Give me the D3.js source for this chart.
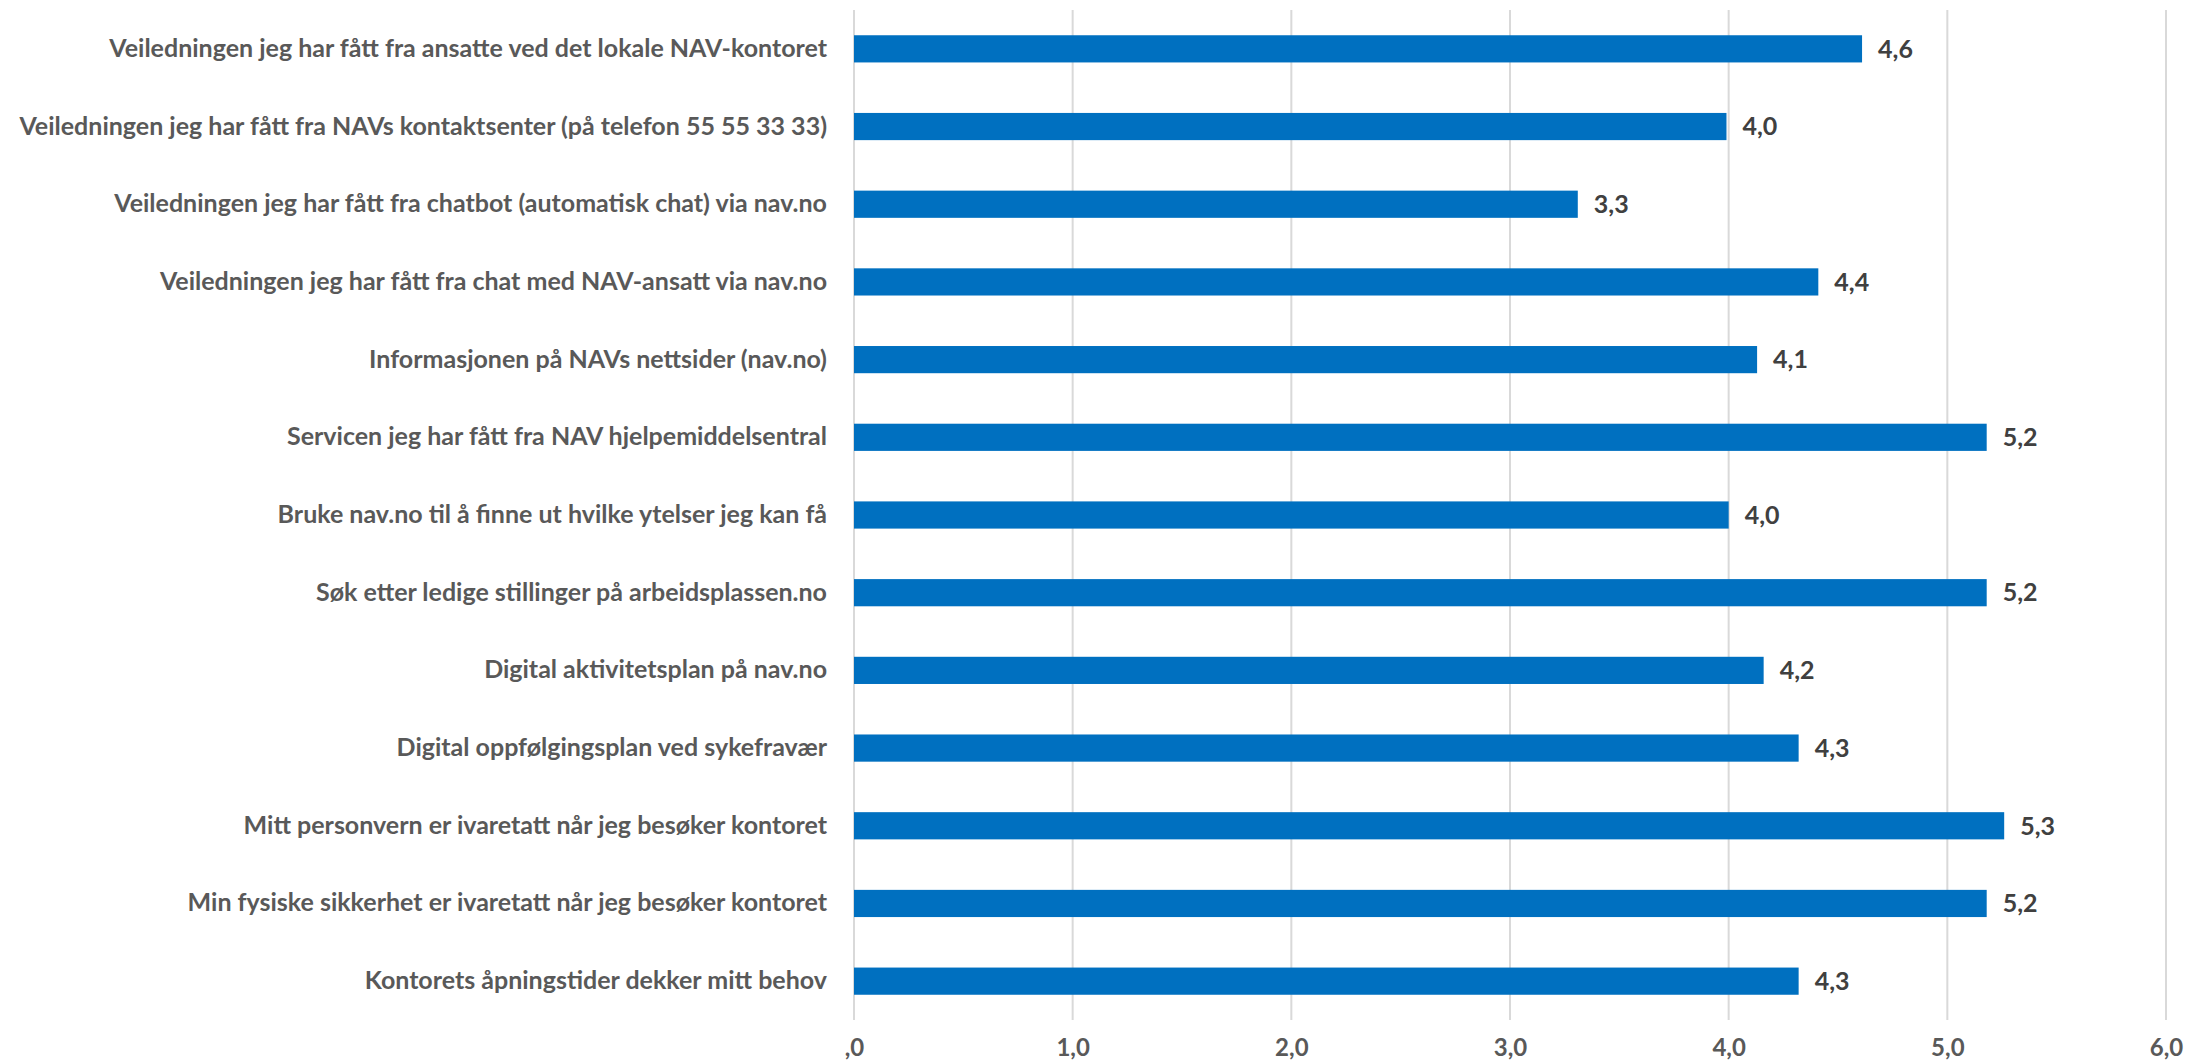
<!DOCTYPE html>
<html>
<head>
<meta charset="utf-8">
<script src="https://cdn.jsdelivr.net/npm/d3@7"></script>
<style>
  html, body { margin: 0; padding: 0; background: #ffffff; }
  svg { display: block; }
  text { font-family: Lato, "Open Sans", sans-serif; font-weight: 700; }
</style>
</head>
<body>
<svg id="chart" width="2185" height="1063"></svg>
<script>
const categories = [
  "Veiledningen jeg har fått fra ansatte ved det lokale NAV-kontoret",
  "Veiledningen jeg har fått fra NAVs kontaktsenter (på telefon 55 55 33 33)",
  "Veiledningen jeg har fått fra chatbot (automatisk chat) via nav.no",
  "Veiledningen jeg har fått fra chat med NAV-ansatt via nav.no",
  "Informasjonen på NAVs nettsider (nav.no)",
  "Servicen jeg har fått fra NAV hjelpemiddelsentral",
  "Bruke nav.no til å finne ut hvilke ytelser jeg kan få",
  "Søk etter ledige stillinger på arbeidsplassen.no",
  "Digital aktivitetsplan på nav.no",
  "Digital oppfølgingsplan ved sykefravær",
  "Mitt personvern er ivaretatt når jeg besøker kontoret",
  "Min fysiske sikkerhet er ivaretatt når jeg besøker kontoret",
  "Kontorets åpningstider dekker mitt behov"
];
const values = [4.61, 3.99, 3.31, 4.41, 4.13, 5.18, 4.00, 5.18, 4.16, 4.32, 5.26, 5.18, 4.32];
const tickValues = [0, 1, 2, 3, 4, 5, 6];
const tickLabels = [",0", "1,0", "2,0", "3,0", "4,0", "5,0", "6,0"];

const svg = d3.select("#chart");
const x = d3.scaleLinear().domain([0, 6]).range([854, 2166]);
const y = d3.scaleBand().domain(categories).range([10, 1020]).paddingInner(0.65).paddingOuter(0.325);

// gridlines
svg.append("g").selectAll("line").data(tickValues).join("line")
  .attr("x1", d => x(d)).attr("x2", d => x(d))
  .attr("y1", 10).attr("y2", 1020)
  .attr("stroke", "#d9d9d9").attr("stroke-width", 2);

// x axis labels
const xAxis = d3.axisBottom(x).tickValues(tickValues)
  .tickFormat((d, i) => tickLabels[i]).tickSize(0).tickPadding(0);
const gx = svg.append("g").attr("transform", "translate(0,1039)").call(xAxis);
gx.select(".domain").remove();
gx.selectAll("text").attr("font-size", 24).attr("fill", "#595959")
  .attr("font-family", "Lato, sans-serif").attr("font-weight", 700).attr("dy", "0.71em");

// y axis labels
const yAxis = d3.axisLeft(y).tickSize(0).tickPadding(27);
const gy = svg.append("g").attr("transform", `translate(${x(0)},0)`).call(yAxis);
gy.select(".domain").remove();
gy.selectAll("text").attr("font-size", 25).attr("fill", "#595959")
  .attr("font-family", "Lato, sans-serif").attr("font-weight", 700);

// bars
svg.append("g").selectAll("rect").data(categories).join("rect")
  .attr("x", x(0))
  .attr("y", d => y(d))
  .attr("width", (d, i) => x(values[i]) - x(0))
  .attr("height", y.bandwidth())
  .attr("fill", "#0070c0");

// value labels
const fmt = v => d3.format(".1f")(v).replace(".", ",");
svg.append("g").selectAll("text").data(categories).join("text")
  .attr("x", (d, i) => x(values[i]) + 16)
  .attr("y", d => y(d) + y.bandwidth() / 2)
  .attr("dy", "0.35em")
  .attr("font-size", 25).attr("fill", "#404040")
  .text((d, i) => fmt(values[i]));
</script>
</body>
</html>
